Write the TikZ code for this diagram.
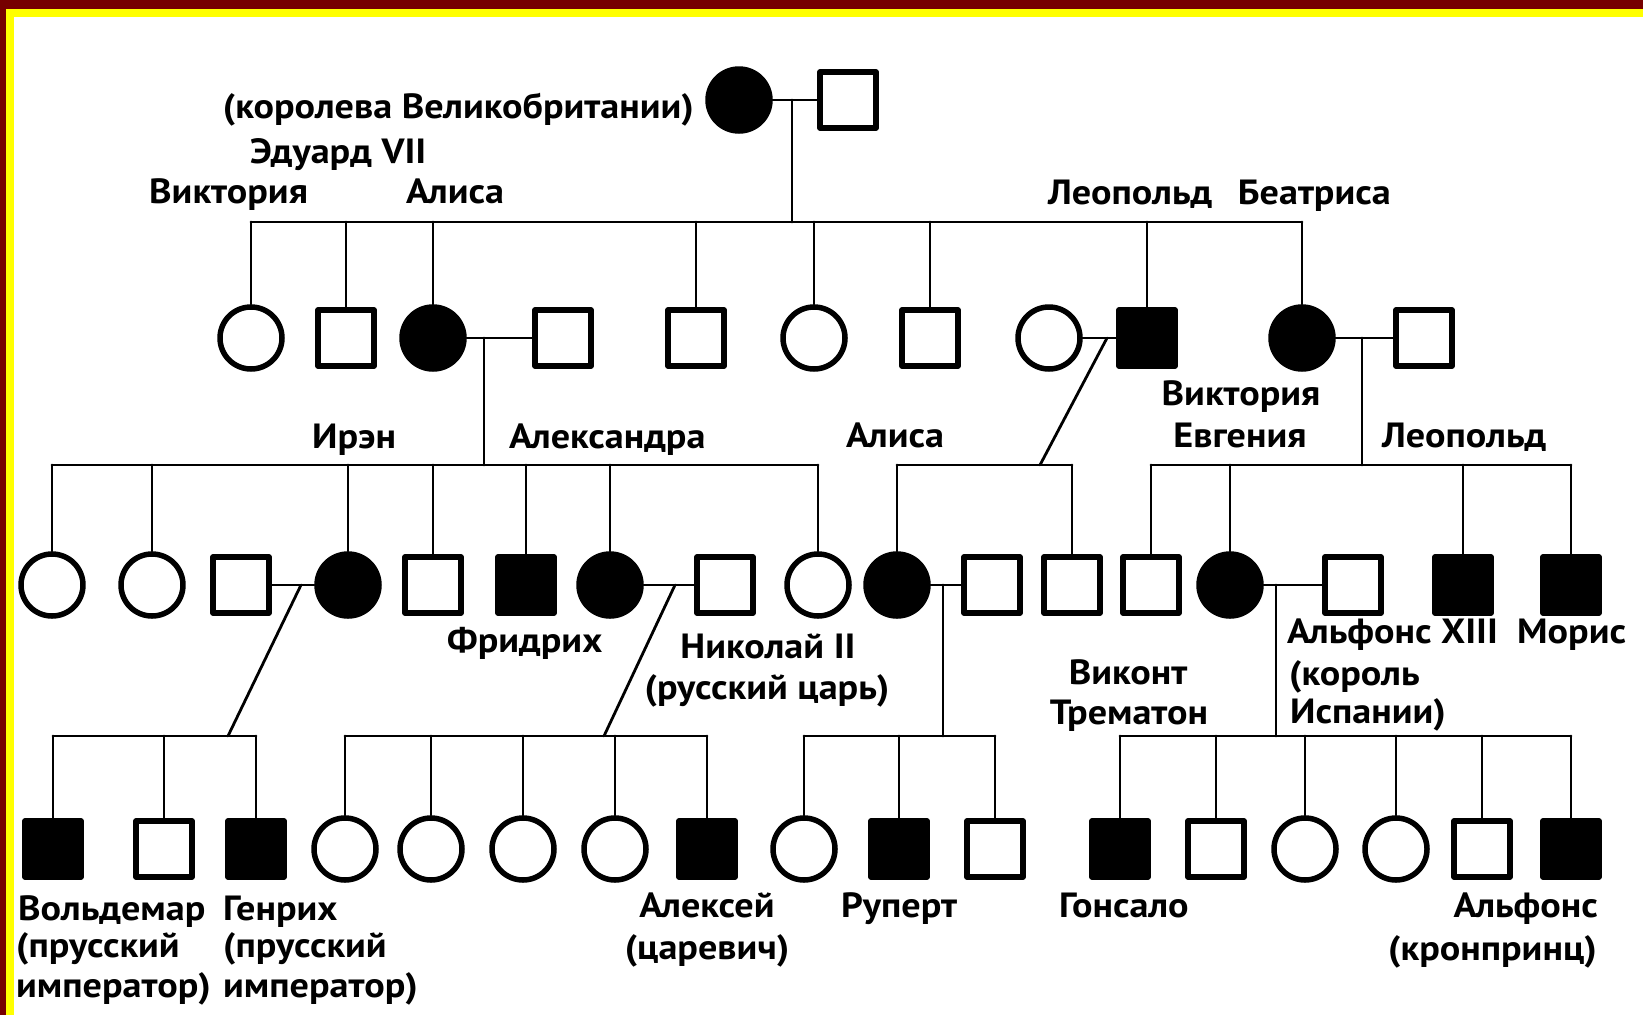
\documentclass[tikz,border=0pt]{standalone}
\usepackage{fontspec}
\setmainfont{PT Sans}[FakeStretch=1.09]
\usetikzlibrary{positioning}
\definecolor{frameRed}{RGB}{118,0,0}
\definecolor{frameYel}{RGB}{255,255,0}

\begin{document}
\begin{tikzpicture}[x=1pt, y=-1pt, line cap=round, line join=round,
  font=\fontsize{35}{39}\selectfont\bfseries,
  fem/.style={circle, draw, line width=5.5pt, minimum size=62pt, inner sep=0pt},
  mal/.style={rectangle, draw, line width=5.5pt, minimum size=56pt, inner sep=0pt},
  aff/.style={fill=black},
  kin/.style={line width=2.8pt},
  lbl/.style={inner sep=0pt}]
  % page and frame
  \useasboundingbox (0,0) rectangle (1643,1015);
  \fill[white] (0,0) rectangle (1643,1015);
  \fill[frameRed] (0,0) rectangle (1643,9);
  \fill[frameRed] (0,0) rectangle (6,1015);
  \fill[frameYel] (6,9) rectangle (1643,17);
  \fill[frameYel] (6,9) rectangle (14,1015);

  % generation I
  \node[fem, aff] (g1n1) at (739,100) {};
  \node[mal] (g1n2) at (848,100) {};
  \draw[kin] (g1n1.east) -- (g1n2.west);
  \coordinate (m1) at (792,100);
  \coordinate (sib1) at (0,222);

  % generation II
  \node[fem] (g2n1) at (251,338) {};
  \node[mal] (g2n2) at (346,338) {};
  \node[fem, aff] (g2n3) at (433,338) {};
  \node[mal] (g2n4) at (563,338) {};
  \node[mal] (g2n5) at (696,338) {};
  \node[fem] (g2n6) at (814,338) {};
  \node[mal] (g2n7) at (930,338) {};
  \node[fem] (g2n8) at (1049,338) {};
  \node[mal, aff] (g2n9) at (1147,338) {};
  \node[fem, aff] (g2n10) at (1302,338) {};
  \node[mal] (g2n11) at (1424,338) {};
  \draw[kin] (m1) -- (m1 |- sib1);
  \draw[kin] (g2n1.north |- sib1) -- (g2n10.north |- sib1);
  \foreach \k in {g2n1,g2n2,g2n3,g2n5,g2n6,g2n7,g2n9,g2n10}
    \draw[kin] (\k.north) -- (\k.north |- sib1);
  \draw[kin] (g2n3.east) -- (g2n4.west);
  \draw[kin] (g2n8.east) -- (g2n9.west);
  \draw[kin] (g2n10.east) -- (g2n11.west);
  \coordinate (m2) at (484,338);
  \coordinate (m3) at (1107,338);
  \coordinate (m4) at (1362,338);
  \coordinate (sib2) at (0,465);

  % generation III
  \node[fem] (g3n1) at (52,585) {};
  \node[fem] (g3n2) at (152,585) {};
  \node[mal] (g3n3) at (241,585) {};
  \node[fem, aff] (g3n4) at (348,585) {};
  \node[mal] (g3n5) at (433,585) {};
  \node[mal, aff] (g3n6) at (526,585) {};
  \node[fem, aff] (g3n7) at (610,585) {};
  \node[mal] (g3n8) at (725,585) {};
  \node[fem] (g3n9) at (818,585) {};
  \node[fem, aff] (g3n10) at (897,585) {};
  \node[mal] (g3n11) at (992,585) {};
  \node[mal] (g3n12) at (1072,585) {};
  \node[mal] (g3n13) at (1151,585) {};
  \node[fem, aff] (g3n14) at (1230,585) {};
  \node[mal] (g3n15) at (1353,585) {};
  \node[mal, aff] (g3n16) at (1463,585) {};
  \node[mal, aff] (g3n17) at (1571,585) {};
  \draw[kin] (m2) -- (m2 |- sib2);
  \draw[kin] (g3n1.north |- sib2) -- (g3n9.north |- sib2);
  \draw[kin] (m3) -- (1040,465);
  \draw[kin] (g3n10.north |- sib2) -- (g3n12.north |- sib2);
  \draw[kin] (m4) -- (m4 |- sib2);
  \draw[kin] (g3n13.north |- sib2) -- (g3n17.north |- sib2);
  \foreach \k in {g3n1,g3n2,g3n4,g3n5,g3n6,g3n7,g3n9,g3n10,g3n12,g3n13,g3n14,g3n16,g3n17}
    \draw[kin] (\k.north) -- (\k.north |- sib2);
  \draw[kin] (g3n3.east) -- (g3n4.west);
  \draw[kin] (g3n7.east) -- (g3n8.west);
  \draw[kin] (g3n10.east) -- (g3n11.west);
  \draw[kin] (g3n14.east) -- (g3n15.west);
  \coordinate (m5) at (301,585);
  \coordinate (m6) at (675,585);
  \coordinate (m7) at (943,585);
  \coordinate (m8) at (1276,585);
  \coordinate (sib3) at (0,736);

  % generation IV
  \node[mal, aff] (g4n1) at (53,849) {};
  \node[mal] (g4n2) at (164,849) {};
  \node[mal, aff] (g4n3) at (256,849) {};
  \node[fem] (g4n4) at (345,849) {};
  \node[fem] (g4n5) at (431,849) {};
  \node[fem] (g4n6) at (523,849) {};
  \node[fem] (g4n7) at (615,849) {};
  \node[mal, aff] (g4n8) at (707,849) {};
  \node[fem] (g4n9) at (804,849) {};
  \node[mal, aff] (g4n10) at (899,849) {};
  \node[mal] (g4n11) at (995,849) {};
  \node[mal, aff] (g4n12) at (1120,849) {};
  \node[mal] (g4n13) at (1216,849) {};
  \node[fem] (g4n14) at (1305,849) {};
  \node[fem] (g4n15) at (1396,849) {};
  \node[mal] (g4n16) at (1482,849) {};
  \node[mal, aff] (g4n17) at (1571,849) {};
  \draw[kin] (m5) -- (228,736);
  \draw[kin] (g4n1.north |- sib3) -- (g4n3.north |- sib3);
  \draw[kin] (m6) -- (604,736);
  \draw[kin] (g4n4.north |- sib3) -- (g4n8.north |- sib3);
  \draw[kin] (m7) -- (m7 |- sib3);
  \draw[kin] (g4n9.north |- sib3) -- (g4n11.north |- sib3);
  \draw[kin] (m8) -- (m8 |- sib3);
  \draw[kin] (g4n12.north |- sib3) -- (g4n17.north |- sib3);
  \foreach \k in {g4n1,g4n2,g4n3,g4n4,g4n5,g4n6,g4n7,g4n8,g4n9,g4n10,g4n11,g4n12,g4n13,g4n14,g4n15,g4n16,g4n17}
    \draw[kin] (\k.north) -- (\k.north |- sib3);

  % labels
  \node[lbl, anchor=base east] (l1) at (694,118) {(королева Великобритании)};
  \node[lbl, anchor=base west] (l2) at (250,163) {Эдуард VII};
  \node[lbl, anchor=base west] (l3) at (149,203) {Виктория};
  \node[lbl, anchor=base west] (l4) at (406,203) {Алиса};
  \node[lbl, anchor=base west] (l5) at (1048,204) {Леопольд};
  \node[lbl, anchor=base east] (l6) at (1391,204) {Беатриса};
  \node[lbl, anchor=base west] (l7) at (312,448) {Ирэн};
  \node[lbl, anchor=base west] (l8) at (509,448) {Александра};
  \node[lbl, anchor=base west] (l9) at (846,447) {Алиса};
  \node[lbl, anchor=base] (l10) at (1241,405) {Виктория};
  \node[lbl, anchor=base] (l11) at (1240,447) {Евгения};
  \node[lbl, anchor=base west] (l12) at (1382,447) {Леопольд};
  \node[lbl, anchor=base west] (l13) at (447,652) {Фридрих};
  \node[lbl, anchor=base] (l14) at (768,658) {Николай II};
  \node[lbl, anchor=base] (l15) at (767,699) {(русский царь)};
  \node[lbl, anchor=base] (l16) at (1128,684) {Виконт};
  \node[lbl, anchor=base] (l17) at (1129,724) {Трематон};
  \node[lbl, anchor=base west] (l18) at (1287,643) {Альфонс XIII};
  \node[lbl, anchor=base west] (l19) at (1289,685) {(король};
  \node[lbl, anchor=base west] (l20) at (1290,723) {Испании)};
  \node[lbl, anchor=base west] (l21) at (1517,643) {Морис};
  \node[lbl, anchor=base west] (l22) at (18,920) {Вольдемар};
  \node[lbl, anchor=base west] (l23) at (16,957) {(прусский};
  \node[lbl, anchor=base west] (l24) at (16,997) {император)};
  \node[lbl, anchor=base west] (l25) at (223,920) {Генрих};
  \node[lbl, anchor=base west] (l26) at (223,957) {(прусский};
  \node[lbl, anchor=base west] (l27) at (223,997) {император)};
  \node[lbl, anchor=base] (l28) at (707,917) {Алексей};
  \node[lbl, anchor=base] (l29) at (707,959) {(царевич)};
  \node[lbl, anchor=base] (l30) at (899,917) {Руперт};
  \node[lbl, anchor=base west] (l31) at (1059,917) {Гонсало};
  \node[lbl, anchor=base east] (l32) at (1598,917) {Альфонс};
  \node[lbl, anchor=base east] (l33) at (1597,960) {(кронпринц)};
\end{tikzpicture}
\end{document}
